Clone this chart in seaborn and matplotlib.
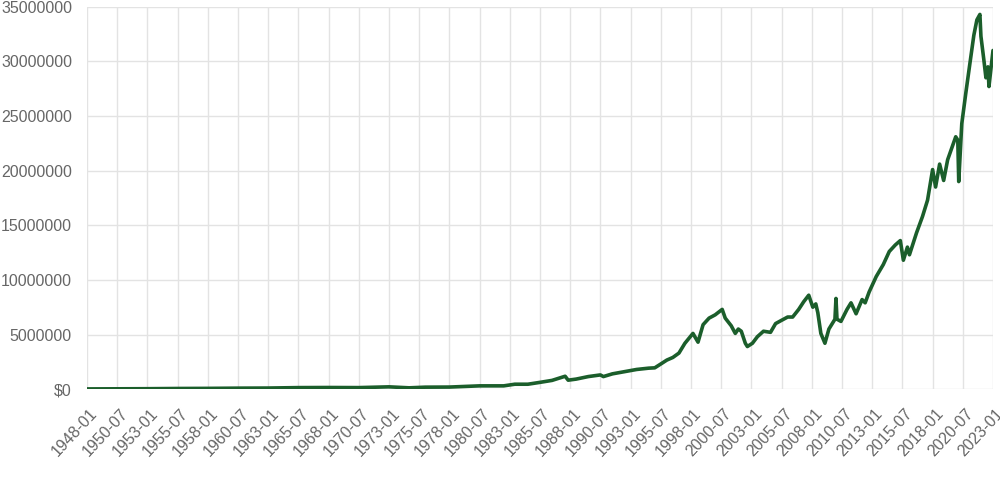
import pandas as pd
import numpy as np
import matplotlib
matplotlib.use("Agg")
import matplotlib.pyplot as plt
import matplotlib.transforms as mtransforms
from matplotlib.ticker import FuncFormatter
import seaborn as sns

# values (millions of dollars)
dates = [
    "1948-01", "1950-07", "1953-01", "1955-07", "1958-01", "1960-07", "1963-01",
    "1965-07", "1968-01", "1970-07", "1973-01", "1974-09", "1976-01", "1978-01",
    "1980-07", "1982-07", "1983-06", "1984-07", "1985-07", "1986-07", "1987-08",
    "1987-11", "1988-07", "1989-07", "1990-07", "1990-10", "1991-07", "1992-07",
    "1993-07", "1994-07", "1995-01", "1995-07", "1996-01", "1996-07", "1997-01",
    "1997-07", "1998-03", "1998-08", "1999-01", "1999-07", "2000-01", "2000-08",
    "2000-11", "2001-05", "2001-09", "2001-12", "2002-03", "2002-07", "2002-09",
    "2003-02", "2003-07", "2004-01", "2004-08", "2005-01", "2005-07", "2006-01",
    "2006-06", "2006-12", "2007-05", "2007-10", "2008-02", "2008-05", "2008-07",
    "2008-10", "2009-02", "2009-06", "2009-12", "2010-01", "2010-02", "2010-06",
    "2010-12", "2011-04", "2011-09", "2012-03", "2012-06", "2012-10", "2013-05",
    "2013-12", "2014-06", "2014-12", "2015-05", "2015-08", "2015-12", "2016-02",
    "2016-09", "2017-03", "2017-08", "2018-01", "2018-04", "2018-08", "2018-12",
    "2019-04", "2019-12", "2020-02", "2020-03", "2020-06", "2020-10", "2021-02",
    "2021-06", "2021-09", "2021-12", "2022-01", "2022-04", "2022-06", "2022-08",
    "2022-09", "2023-01",
]
values_m = [
    0.02, 0.03, 0.04, 0.06, 0.07, 0.09, 0.10,
    0.14, 0.15, 0.14, 0.21, 0.12, 0.18, 0.19,
    0.30, 0.30, 0.45, 0.45, 0.62, 0.80, 1.18,
    0.82, 0.92, 1.15, 1.30, 1.15, 1.40, 1.60,
    1.80, 1.92, 1.95, 2.30, 2.66, 2.90, 3.30,
    4.20, 5.10, 4.30, 5.90, 6.50, 6.80, 7.30,
    6.50, 5.80, 5.10, 5.50, 5.30, 4.20, 3.90,
    4.20, 4.80, 5.30, 5.20, 6.00, 6.30, 6.60,
    6.60, 7.30, 8.00, 8.60, 7.50, 7.80, 7.00,
    5.10, 4.20, 5.50, 6.40, 8.30, 6.40, 6.20,
    7.30, 7.90, 6.90, 8.20, 7.90, 8.90, 10.30,
    11.40, 12.60, 13.20, 13.60, 11.80, 13.00, 12.30,
    14.30, 15.80, 17.30, 20.10, 18.50, 20.60, 19.10,
    21.00, 23.10, 22.80, 19.00, 24.30, 27.10, 29.80,
    32.40, 33.80, 34.30, 32.30, 30.10, 28.50, 29.50,
    27.70, 31.00,
]
tick_dates = pd.date_range("1948-01-01", "2023-01-01", freq="30MS")
tick_labels = [d.strftime("%Y-%m") for d in tick_dates]

df = pd.DataFrame({"date": pd.to_datetime(dates), "value": np.array(values_m) * 1e6})

sns.set_style("white")
plt.rcParams["font.family"] = ["Liberation Sans", "DejaVu Sans"]

fig = plt.figure(figsize=(10, 4.84), dpi=100)
ax = fig.add_axes([0.087, 0.196, 0.906, 0.79])

grid_c = "#e3e3e3"
sns.lineplot(data=df, x="date", y="value", color="#1b5e2b", linewidth=2.6, ax=ax)

ax.set_xlim(pd.Timestamp("1948-01-01"), pd.Timestamp("2023-01-01"))
ax.set_ylim(0, 35e6)
ax.set_yticks(np.arange(0, 35e6 + 1, 5e6))
ax.yaxis.set_major_formatter(FuncFormatter(lambda v, p: "$0" if v == 0 else f"{int(v)}"))
ax.set_xticks(tick_dates)
ax.set_xticklabels([])

# rotated date labels, placed by hand so they sit a bit right of the tick (chart.js look)
offset = mtransforms.ScaledTranslation(8 / 100, -22 / 100, fig.dpi_scale_trans)
for d, lab in zip(tick_dates, tick_labels):
    ax.text(d, 0, lab, transform=ax.get_xaxis_transform() + offset, rotation=47,
            ha="right", va="center", rotation_mode="anchor", fontsize=11.5,
            color="#666666", clip_on=False)

ax.grid(True, color=grid_c, linewidth=1)
ax.set_axisbelow(True)
for s in ax.spines.values():
    s.set_visible(False)
ax.tick_params(axis="both", length=7.2, width=1, color=grid_c, labelcolor="#666666",
               labelsize=11.5)
ax.tick_params(axis="y", pad=3.6)
ax.set_xlabel("")
ax.set_ylabel("")

fig.savefig("out.png", dpi=100)
